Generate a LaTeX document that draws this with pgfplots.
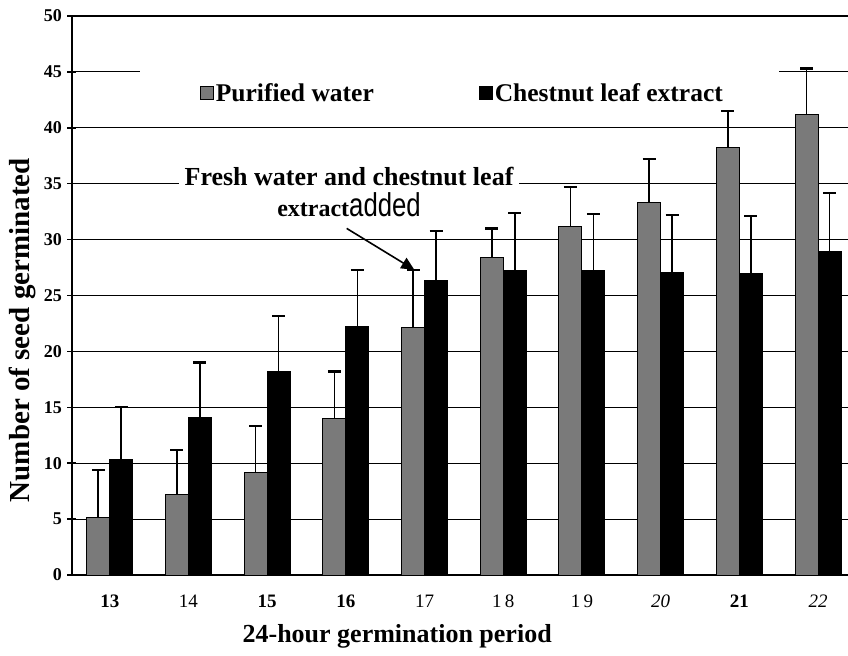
\documentclass[border=0pt]{standalone}
\usepackage{fontspec}
\setmainfont{Liberation Serif}
\newfontfamily\addedfont{Liberation Sans}
\usepackage{graphicx}
\usepackage{pgfplots}
\usepackage{pgfplotstable}
\pgfplotsset{compat=1.18}
\usetikzlibrary{arrows.meta}

\pgfplotstableread{
x y e
0 5.1 4.3
1 7.2 4.0
2 9.2 4.1
3 14.0 4.2
4 22.1 5.2
5 28.4 2.6
6 31.2 3.5
7 33.3 3.9
8 38.2 3.3
9 41.2 4.1
}\purified

\pgfplotstableread{
x y e
0 10.3 4.7
1 14.1 4.9
2 18.2 5.0
3 22.2 5.1
4 26.3 4.5
5 27.2 5.2
6 27.2 5.1
7 27.1 5.1
8 27.0 5.1
9 28.9 5.3
}\chestnut

\definecolor{pgray}{RGB}{122,122,122}

\pgfplotsset{
  myerr/.style={
    error bars/y dir=plus,
    error bars/y explicit,
    error bars/error bar style={line width=1.6bp, black, solid},
    error bars/error mark options={rotate=90, mark size=6.5bp, line width=2.2bp, black},
  }
}

\begin{document}
\begin{tikzpicture}
\begin{axis}[
  scale only axis, width=776bp, height=559bp,
  xmin=-0.48, xmax=9.38, ymin=0, ymax=50,
  axis x line=bottom, axis y line=left,
  axis line style={line width=2.2bp,-},
  ybar=0pt, bar width=23bp,
  xtick={0,...,9},
  xticklabels={\textbf{13},14,\textbf{15},\textbf{16},17,1\,8,1\,9,\textit{20},\textbf{21},\textit{22}},
  xtick style={draw=none},
  xticklabel style={font=\fontsize{19bp}{22bp}\selectfont, yshift=-12bp},
  ytick={0,5,...,50},
  yticklabels={0,5,10,15,20,25,30,35,40,45,50},
  yticklabel style={font=\fontsize{18bp}{20bp}\selectfont\bfseries, xshift=-2bp},
  ytick style={line width=1.5bp, black},
  major tick length=9bp, tick align=center,
  ymajorgrids, grid style={line width=1bp, black},
  xlabel={24-hour germination period},
  xlabel style={at={(axis description cs:0.419,-0.082)}, anchor=north, font=\fontsize{26bp}{30bp}\selectfont\bfseries},
  ylabel={Number of seed germinated},
  ylabel style={at={(axis description cs:-0.064,0.438)}, anchor=center, font=\fontsize{29bp}{32bp}\selectfont\bfseries},
  legend columns=2,
  legend style={at={(axis cs:4.48,43.1)}, anchor=center, draw=none, fill=none,
    inner sep=2bp,
    font=\fontsize{25.5bp}{28bp}\selectfont\bfseries,
    /tikz/every even column/.append style={column sep=103bp}},
  legend image code/.code={\draw[#1,/tikz/.cd,sharp plot] (0bp,-6.5bp) rectangle (13bp,6.5bp);},
]
% white areas behind legend and annotation (hide gridlines, below bars)
\fill[white] (axis cs:0.38,41.5) rectangle (axis cs:8.5,45.7);
\node[fill=white, align=center, inner xsep=6bp, inner ysep=3bp, font=\fontsize{26bp}{31bp}\selectfont\bfseries]
  at (axis cs:3.04,34.3) {Fresh water and chestnut leaf\\ {\fontsize{24bp}{31bp}\selectfont extract}{\mdseries\addedfont\fontsize{33bp}{31bp}\selectfont\scalebox{0.78}[1]{added}}};

\addplot[fill=pgray, draw=black, line width=1bp, myerr] table[x=x, y=y, y error=e] {\purified};
\addlegendentry{Purified water}
\addplot[fill=black, draw=black, line width=1bp, myerr] table[x=x, y=y, y error=e] {\chestnut};
\addlegendentry{Chestnut leaf extract}

\draw[line width=2.5bp] (axis cs:-0.48,50) -- (axis cs:9.38,50);
\draw[line width=1.6bp, -{Triangle[length=13bp,width=12bp]}] (axis cs:3.01,31.0) -- (axis cs:3.87,27.3);
\end{axis}
\pgfresetboundingbox
\path (current axis.south west) ++(-72bp,-81bp) rectangle ++(848bp,656bp);
\end{tikzpicture}
\end{document}
